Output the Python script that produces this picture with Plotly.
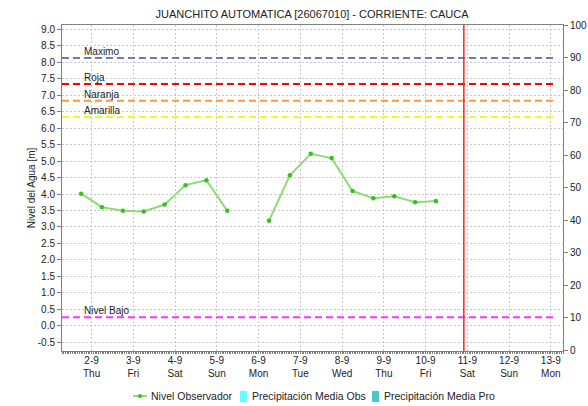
import plotly.graph_objects as go

# ---- data ----
obs_times = [
    "2021-09-01 18:00", "2021-09-02 06:00", "2021-09-02 18:00", "2021-09-03 06:00",
    "2021-09-03 18:00", "2021-09-04 06:00", "2021-09-04 18:00", "2021-09-05 06:00",
    "2021-09-05 18:00", "2021-09-06 06:00", "2021-09-06 18:00", "2021-09-07 06:00",
    "2021-09-07 18:00", "2021-09-08 06:00", "2021-09-08 18:00", "2021-09-09 06:00",
    "2021-09-09 18:00", "2021-09-10 06:00",
]
obs_levels = [4.01, 3.60, 3.49, 3.47, 3.68, 4.27, 4.42, 3.49,
              None, 3.19, 4.57, 5.22, 5.09, 4.09, 3.87, 3.93, 3.75, 3.79]

threshold_names = ["Maximo", "Roja", "Naranja", "Amarilla", "Nivel Bajo"]
threshold_values = [8.13, 7.34, 6.83, 6.34, 0.26]
threshold_colors = ["#6e7ca8", "#ff0000", "#ff9933", "#f7f71e", "#ff33ff"]

day_ticks = ["2021-09-%02d" % d for d in range(2, 14)]
day_labels = ["2-9", "3-9", "4-9", "5-9", "6-9", "7-9", "8-9", "9-9", "10-9", "11-9", "12-9", "13-9"]
weekday_labels = ["Thu", "Fri", "Sat", "Sun", "Mon", "Tue", "Wed", "Thu", "Fri", "Sat", "Sun", "Mon"]

legend_names = ["Nivel Observador", "Precipitación Media Obs", "Precipitación Media Pro"]
legend_colors = ["#33c21a", "#66ffff", "#44c8c8"]

now_time = "2021-09-10 22:00"
x_start, x_end = "2021-09-01 07:00", "2021-09-13 07:00"

title_text = "JUANCHITO AUTOMATICA [26067010] - CORRIENTE: CAUCA"
FONT = "Liberation Sans, Arial, sans-serif"

# plot area geometry (pixels)
W, H = 588, 406
L, R, T, B = 62, 25, 25, 55
PW, PH = W - L - R, H - T - B


def px(xp):
    return (xp - L) / PW


def py(yp):
    return (H - B - yp) / PH


fig = go.Figure()

# threshold lines
for name, val, col in zip(threshold_names, threshold_values, threshold_colors):
    fig.add_trace(go.Scatter(
        x=[x_start, "2021-09-13 03:00"], y=[val, val], mode="lines",
        line=dict(color=col, width=2, dash="7px,4px"),
        showlegend=False, hoverinfo="skip"))

fig.add_trace(go.Scatter(
    x=obs_times, y=obs_levels, mode="lines+markers", name=legend_names[0],
    line=dict(color="#8fdc78", width=2),
    marker=dict(color="#33c21a", size=4.5),
    connectgaps=False, showlegend=False))

# empty precipitation series (right axis)
fig.add_trace(go.Bar(x=[None], y=[None], name=legend_names[1],
                     marker=dict(color=legend_colors[1]), yaxis="y2", showlegend=False))
fig.add_trace(go.Bar(x=[None], y=[None], name=legend_names[2],
                     marker=dict(color=legend_colors[2]), yaxis="y2", showlegend=False))

# threshold labels
for name, val in zip(threshold_names, threshold_values):
    fig.add_annotation(x=px(82), xref="paper", y=val, yref="y", text=name,
                       showarrow=False, xanchor="left", yanchor="bottom", yshift=-1,
                       font=dict(size=10, color="#222222", family=FONT))

# current time line
fig.add_shape(type="line", x0=now_time, x1=now_time, xref="x", y0=0, y1=1, yref="paper",
              line=dict(color="#ff2020", width=1.5))

# manual legend
ly = py(396)
fig.add_shape(type="line", xref="paper", yref="paper", x0=px(133), x1=px(147), y0=ly, y1=ly,
              line=dict(color="#8fdc78", width=2))
fig.add_shape(type="circle", xref="paper", yref="paper", x0=px(138), x1=px(142),
              y0=py(398), y1=py(394), line=dict(width=0), fillcolor=legend_colors[0])
fig.add_shape(type="rect", xref="paper", yref="paper", x0=px(240), x1=px(247),
              y0=py(402), y1=py(391), line=dict(width=0), fillcolor=legend_colors[1])
fig.add_shape(type="rect", xref="paper", yref="paper", x0=px(372), x1=px(379),
              y0=py(402), y1=py(391), line=dict(width=0), fillcolor=legend_colors[2])
for name, xs in zip(legend_names, [149, 250, 382]):
    fig.add_annotation(x=px(xs), xref="paper", y=ly, yref="paper", text=name,
                       showarrow=False, xanchor="left", yanchor="middle",
                       font=dict(size=10.5, color="#222222", family=FONT))

ticktext = [a + "<br>" + b for a, b in zip(day_labels, weekday_labels)]

fig.update_layout(
    width=W, height=H,
    margin=dict(l=L, r=R, t=T, b=B, autoexpand=False),
    paper_bgcolor="white", plot_bgcolor="white",
    font=dict(family=FONT, size=10, color="#222222"),
    title=dict(text=title_text, x=px(312), xref="paper", xanchor="center",
               y=1 - 14 / H, yref="container", yanchor="middle",
               font=dict(size=11, color="#222222", family=FONT)),
    showlegend=False,
    xaxis=dict(type="date", range=[x_start, x_end], automargin=False,
               tickvals=day_ticks, ticktext=ticktext, tickangle=0,
               showgrid=True, gridcolor="#c8c8c8", griddash="2px,2px", gridwidth=1,
               showline=True, linecolor="#808080", linewidth=1, mirror=True,
               ticks="", minor=dict(dtick=3600000, ticks="outside", ticklen=2,
                                    tickcolor="#808080", showgrid=False),
               tickfont=dict(size=10), zeroline=False),
    yaxis=dict(range=[-0.764, 9.13], automargin=False,
               tickvals=[x / 2 for x in range(-1, 19)],
               ticktext=["%.1f" % (x / 2) for x in range(-1, 19)],
               showgrid=True, gridcolor="#c8c8c8", griddash="2px,2px", gridwidth=1,
               showline=True, linecolor="#808080", linewidth=1,
               ticks="outside", ticklen=4, tickcolor="#808080",
               title=dict(text="Nivel del Agua [m]", font=dict(size=10), standoff=0),
               zeroline=False, tickfont=dict(size=10)),
    yaxis2=dict(range=[-0.3, 100], overlaying="y", side="right", automargin=False,
                tickvals=list(range(0, 101, 10)), showgrid=False,
                showline=True, linecolor="#808080", linewidth=1,
                ticks="outside", ticklen=4, tickcolor="#808080",
                zeroline=False, tickfont=dict(size=10)),
    bargap=0,
)

fig.write_html("out.html", config={"displayModeBar": False},
               post_script="document.body.style.margin='0';document.body.style.overflow='hidden';")
